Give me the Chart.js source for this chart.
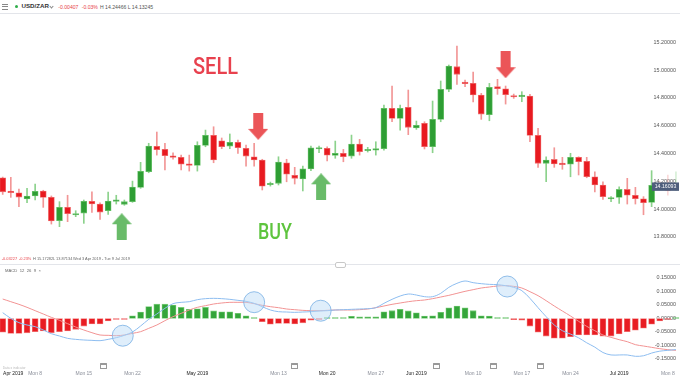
<!DOCTYPE html>
<html><head><meta charset="utf-8">
<script src="https://cdn.jsdelivr.net/npm/chart.js@4.4.1/dist/chart.umd.min.js"></script>
<style>
html,body{margin:0;padding:0;background:#fff;}
body{width:680px;height:379px;position:relative;overflow:hidden;font-family:"Liberation Sans",Arial,sans-serif;}
.abs{position:absolute;white-space:nowrap;}
canvas{position:absolute;left:0;}
.cal{position:absolute;width:5px;height:3px;border:0.8px solid #999;border-top:2px solid #999;border-radius:0.5px;top:363px;}
</style></head><body>
<canvas id="c1" width="680" height="248" style="top:14px"></canvas>
<canvas id="c2" width="680" height="115" style="top:264px"></canvas>

<!-- header -->
<div class="abs" style="left:2px;top:4px;width:5.5px;height:1px;background:#888"></div>
<div class="abs" style="left:2px;top:6.3px;width:5.5px;height:1px;background:#888"></div>
<div class="abs" style="left:2px;top:8.6px;width:5.5px;height:1px;background:#888"></div>
<div class="abs" style="left:15px;top:5px;width:3.4px;height:3.4px;border-radius:50%;background:#2fae4a"></div>
<div class="abs" style="left:21.5px;top:3.4px;font-size:6.2px;line-height:6.4px;font-weight:bold;color:#333">USD/ZAR</div>
<div class="abs" style="left:50.3px;top:4.6px;width:2px;height:2px;border-right:0.8px solid #888;border-bottom:0.8px solid #888;transform:rotate(45deg)"></div>
<div class="abs" style="left:58.3px;top:4px;font-size:5.1px;line-height:6px;color:#e8444a">-0.00407</div>
<div class="abs" style="left:81.7px;top:4px;font-size:5.1px;line-height:6px;color:#e8444a">-0.03%</div>
<div class="abs" style="left:100px;top:4px;font-size:5.1px;line-height:6px;color:#555">H 14.24466 L 14.13245</div>
<div class="abs" style="left:0;top:13px;width:680px;height:1px;background:#e3e5ea"></div>

<!-- annotations -->
<div class="abs" id="sell" style="left:193px;top:53px;font-family:Roboto,'Liberation Sans',sans-serif;font-weight:500;font-size:24px;line-height:26px;color:#e8414e;transform-origin:0 0">SELL</div>
<div class="abs" id="buy" style="left:258px;top:220px;font-family:Roboto,'Liberation Sans',sans-serif;font-weight:500;font-size:22px;line-height:24px;color:#5ec43e;transform-origin:0 0">BUY</div>

<!-- bottom info of price pane -->
<div class="abs" style="left:1.7px;top:257.2px;font-size:3.9px;line-height:4.4px;color:#e8444a">-0.03227</div>
<div class="abs" style="left:19px;top:257.2px;font-size:3.9px;line-height:4.4px;color:#e8444a">-0.23%</div>
<div class="abs" style="left:33px;top:257.2px;font-size:3.9px;line-height:4.4px;color:#666">H 15.17282</div>
<div class="abs" style="left:53px;top:257.2px;font-size:3.9px;line-height:4.4px;color:#666">L 13.87134</div>
<div class="abs" style="left:73px;top:257.2px;font-size:3.9px;line-height:4.4px;color:#666">Wed 3 Apr 2019 - Tue 9 Jul 2019</div>
<div class="abs" style="left:0;top:264px;width:680px;height:1px;background:#e3e5ea"></div>
<div class="abs" style="left:335px;top:262.3px;width:9px;height:3.4px;border:0.7px solid #c8c8c8;border-radius:2px;background:#fff"></div>
<div class="abs" style="left:5px;top:268.8px;font-size:4.2px;line-height:4.6px;color:#666;word-spacing:1.2px">MACD 12 26 9 ×</div>

<!-- bottom strip -->
<div class="abs" style="left:2.7px;top:366.6px;font-size:3.3px;line-height:3.6px;color:#bbb">Data x indicator</div>
<div class="cal" style="left:100px"></div>
<div class="cal" style="left:290.5px"></div>
<div class="cal" style="left:432.5px"></div>
<div class="cal" style="left:490px"></div>
<div class="cal" style="left:537.3px"></div>

<script>
// ---------- data ----------
const opens  = [14.225,14.129,14.117,14.072,14.094,14.130,14.084,13.916,14.012,13.957,
                13.971,14.055,14.036,13.988,14.055,14.034,14.053,14.156,14.268,14.451,
                14.429,14.381,14.372,14.324,14.314,14.458,14.530,14.491,14.453,14.480,
                14.437,14.376,14.353,14.175,14.185,14.333,14.242,14.216,14.288,14.432,
                14.437,14.386,14.401,14.381,14.468,14.419,14.424,14.434,14.724,14.652,
                14.732,14.583,14.617,14.448,14.645,14.861,15.024,14.914,14.904,14.820,
                14.678,14.880,14.865,14.815,14.808,14.813,14.530,14.329,14.357,14.329,
                14.322,14.372,14.343,14.232,14.173,14.072,14.084,14.141,14.099,14.074,
                14.048,14.170,14.175,14.150];
const highs  = [14.230,14.228,14.144,14.149,14.180,14.135,14.094,14.053,14.099,13.988,
                14.065,14.124,14.045,14.122,14.099,14.065,14.201,14.336,14.473,14.554,
                14.473,14.405,14.388,14.388,14.484,14.568,14.592,14.511,14.540,14.496,
                14.460,14.473,14.358,14.194,14.376,14.358,14.300,14.309,14.453,14.453,
                14.448,14.489,14.429,14.532,14.501,14.444,14.484,14.748,14.885,14.748,
                14.856,14.633,14.628,14.777,14.921,15.036,15.173,14.928,14.986,14.832,
                14.904,14.933,14.885,14.827,14.844,14.825,14.581,14.376,14.441,14.372,
                14.401,14.376,14.372,14.268,14.196,14.089,14.160,14.221,14.156,14.089,
                14.276,14.200,14.245,14.268];
const lows   = [14.105,14.084,14.017,14.045,14.065,14.012,13.892,13.873,13.909,13.945,
                13.897,13.976,13.926,13.962,14.036,14.027,14.048,14.149,14.261,14.388,
                14.281,14.358,14.281,14.273,14.273,14.448,14.333,14.434,14.434,14.400,
                14.309,14.309,14.137,14.165,14.173,14.196,14.180,14.130,14.276,14.405,
                14.347,14.365,14.340,14.365,14.388,14.410,14.388,14.424,14.628,14.568,
                14.535,14.573,14.432,14.405,14.628,14.844,14.897,14.880,14.770,14.645,
                14.635,14.825,14.755,14.796,14.772,14.484,14.300,14.196,14.300,14.286,
                14.232,14.245,14.225,14.124,14.070,14.053,14.041,14.036,14.036,13.959,
                14.017,14.140,14.100,14.132];
const closes = [14.124,14.117,14.086,14.094,14.127,14.084,13.914,14.012,13.966,13.966,
                14.055,14.036,13.978,14.058,14.065,14.053,14.158,14.271,14.453,14.427,
                14.383,14.372,14.322,14.314,14.458,14.530,14.353,14.448,14.480,14.441,
                14.381,14.353,14.165,14.185,14.338,14.250,14.221,14.290,14.441,14.439,
                14.388,14.401,14.376,14.468,14.412,14.427,14.432,14.724,14.652,14.724,
                14.588,14.602,14.448,14.645,14.861,15.029,14.969,14.902,14.820,14.683,
                14.875,14.865,14.822,14.806,14.820,14.530,14.329,14.353,14.324,14.319,
                14.372,14.340,14.232,14.173,14.089,14.081,14.141,14.099,14.074,14.045,
                14.170,14.160,14.130,14.165];
const macdLine = [0.0216,0.0006,-0.0154,-0.0241,-0.0302,-0.0426,-0.0562,-0.0648,-0.0735,-0.0772,
                  -0.0796,-0.0809,-0.0821,-0.0772,-0.0710,-0.0623,-0.0500,-0.0278,-0.0031,0.0167,
                  0.0377,0.0549,0.0599,0.0623,0.0698,0.0735,0.0747,0.0735,0.0710,0.0673,
                  0.0636,0.0562,0.0438,0.0315,0.0253,0.0241,0.0228,0.0241,0.0253,0.0278,
                  0.0290,0.0315,0.0327,0.0340,0.0352,0.0364,0.0401,0.0562,0.0710,0.0833,
                  0.0907,0.0870,0.0809,0.0809,0.0932,0.1154,0.1302,0.1389,0.1327,0.1290,
                  0.1265,0.1253,0.1216,0.1154,0.1031,0.0747,0.0401,0.0068,-0.0241,-0.0452,
                  -0.0577,-0.0715,-0.0900,-0.1060,-0.1260,-0.1350,-0.1350,-0.1350,-0.1400,-0.1380,
                  -0.1280,-0.1210,-0.1180,-0.1150];
const signalLine = [0.0722,0.0623,0.0525,0.0414,0.0290,0.0167,0.0043,-0.0068,-0.0191,-0.0315,
                  -0.0426,-0.0525,-0.0611,-0.0623,-0.0636,-0.0611,-0.0549,-0.0488,-0.0364,-0.0241,
                  -0.0080,0.0068,0.0191,0.0315,0.0414,0.0475,0.0537,0.0574,0.0599,0.0599,
                  0.0599,0.0549,0.0488,0.0438,0.0401,0.0352,0.0327,0.0302,0.0290,0.0290,
                  0.0302,0.0315,0.0315,0.0315,0.0327,0.0352,0.0401,0.0463,0.0525,0.0574,
                  0.0623,0.0660,0.0685,0.0735,0.0796,0.0858,0.0932,0.1006,0.1068,0.1130,
                  0.1167,0.1204,0.1216,0.1191,0.1130,0.0994,0.0846,0.0660,0.0463,0.0278,
                  0.0093,-0.0105,-0.0290,-0.0451,-0.0611,-0.0698,-0.0784,-0.0858,-0.0969,-0.1019,
                  -0.1068,-0.1117,-0.1154,-0.1179];
const histogram = [-0.051,-0.055,-0.055,-0.053,-0.049,-0.046,-0.053,-0.049,-0.046,-0.040,
                  -0.028,-0.020,-0.020,-0.009,-0.003,-0.001,0.010,0.024,0.044,0.053,
                  0.053,0.050,0.041,0.034,0.036,0.041,0.028,0.025,0.025,0.019,
                  0.010,0.003,-0.012,-0.021,-0.018,-0.018,-0.020,-0.016,-0.006,-0.003,
                  0.002,0.002,0.002,0.008,0.006,0.006,0.006,0.025,0.029,0.034,
                  0.028,0.021,0.009,0.010,0.023,0.040,0.046,0.040,0.029,0.010,
                  0.009,0.002,0.001,-0.004,-0.006,-0.028,-0.051,-0.065,-0.073,-0.073,
                  -0.067,-0.061,-0.061,-0.061,-0.065,-0.065,-0.057,-0.049,-0.043,-0.036,
                  -0.021,-0.009,-0.003,0.003];
const priceTicks = [13.8,14.0,14.2,14.4,14.6,14.8,15.0,15.2];
const macdTicks = [-0.15,-0.10,-0.05,0,0.05,0.10,0.15];
const dateTickIndex = [1.3,4,10,16,24,34,40,46,51,58,64,70,76,82];
const dateTickLabels = ['Apr 2019','Mon 8','Mon 15','Mon 22','May 2019','Mon 13','Mon 20','Mon 27','Jun 2019','Mon 10','Mon 17','Mon 24','Jul 2019','Mon 8'];
const lastPrice = 14.16093;
// signal markers (candle index, price) and MACD crossovers (candle index, MACD value)
const buyMarkers  = [[14.67,13.873],[39.25,14.160]];
const sellMarkers = [[31.5,14.595],[62.0,15.038]];
const crossovers  = [[14.8,-0.0637],[31.0,0.0604],[39.2,0.0289],[62.2,0.1185]];

// ---------- helpers ----------
const idx = opens.map((_, i) => i);
const X_MIN = -0.333, X_MAX = 83.5;
const isUp = i => closes[i] >= opens[i];
const faded = i => i > 80;
const rgba = (c, a) => `rgba(${c},${a})`;
const G_BODY = '46,158,52', G_EDGE = '108,196,108', G_WICK = '140,210,140';
const R_BODY = '232,26,32', R_EDGE = '240,112,112', R_WICK = '242,150,150';

function makeArrow(color, up) {
  const c = document.createElement('canvas'); c.width = 20; c.height = 27;
  const g = c.getContext('2d'); g.fillStyle = color; g.beginPath();
  if (up) { g.moveTo(10,0); g.lineTo(20,11); g.lineTo(15,11); g.lineTo(15,27); g.lineTo(5,27); g.lineTo(5,11); g.lineTo(0,11); }
  else { g.moveTo(5,0); g.lineTo(15,0); g.lineTo(15,16); g.lineTo(20,16); g.lineTo(10,27); g.lineTo(0,16); g.lineTo(5,16); }
  g.closePath(); g.fill(); return c;
}
const upArrow = makeArrow('rgba(84,178,84,0.88)', true);
const downArrow = makeArrow('rgba(233,66,70,0.9)', false);

const yAxisCommon = (ticks) => ({
  type: 'linear', position: 'right', beginAtZero: false,
  grid: { display: false, drawTicks: false }, border: { display: false },
  z: 1,
  ticks: { mirror: true, padding: -4, font: { size: 5.4, family: 'Liberation Sans' }, color: '#555',
           callback: v => Number(v).toFixed(5) },
  afterFit: s => { s.width = 0; },
  afterBuildTicks: s => { s.ticks = ticks.map(v => ({ value: v })); }
});

const lastPricePlugin = {
  id: 'lastPrice',
  afterDraw(ch) {
    const y = ch.scales.y.getPixelForValue(lastPrice);
    const g = ch.ctx, r = ch.chartArea.right;
    g.save();
    g.fillStyle = '#4e5e7c';
    g.fillRect(r - 28, y - 4.2, 27, 8.4);
    g.fillStyle = '#fff'; g.font = '5.2px "Liberation Sans"';
    g.textAlign = 'center'; g.textBaseline = 'middle';
    g.fillText(lastPrice.toFixed(5), r - 14.5, y + 0.3);
    g.restore();
  }
};

const common = {
  responsive: false, devicePixelRatio: 1, animation: false, events: [],
  layout: { padding: 0, autoPadding: false },
  plugins: { legend: { display: false }, tooltip: { enabled: false } }
};

// ---------- price chart ----------
new Chart(document.getElementById('c1'), {
  type: 'bar',
  data: { datasets: [
    { type: 'scatter', data: buyMarkers.map(([x, y]) => ({ x, y })).concat(sellMarkers.map(([x, y]) => ({ x, y }))),
      pointStyle: buyMarkers.map(() => upArrow).concat(sellMarkers.map(() => downArrow)),
      pointRadius: 10, order: 0 },
    { data: idx.map(i => ({ x: i, y: [opens[i], closes[i]] })),
      backgroundColor: idx.map(i => rgba(isUp(i) ? G_BODY : R_BODY, faded(i) ? 0.3 : 1)),
      borderColor: idx.map(i => rgba(isUp(i) ? G_EDGE : R_EDGE, faded(i) ? 0.3 : 1)),
      borderWidth: 0.8, borderSkipped: false, barThickness: 6, minBarLength: 1.5, grouped: false, order: 1 },
    { data: idx.map(i => ({ x: i, y: [lows[i], highs[i]] })),
      backgroundColor: idx.map(i => rgba(isUp(i) ? G_WICK : R_WICK, faded(i) ? 0.35 : 1)),
      borderWidth: 0, barThickness: 1, grouped: false, order: 2 }
  ]},
  options: Object.assign({}, common, {
    scales: {
      x: { type: 'linear', min: X_MIN, max: X_MAX, offset: false, display: false },
      y: Object.assign(yAxisCommon(priceTicks), { min: 13.619, max: 15.403 })
    }
  }),
  plugins: [lastPricePlugin]
});

// ---------- MACD chart ----------
new Chart(document.getElementById('c2'), {
  type: 'bar',
  data: { datasets: [
    { type: 'bubble', data: crossovers.map(([x, y]) => ({ x, y, r: 10.5 })),
      backgroundColor: 'rgba(185,218,247,0.45)', borderColor: 'rgba(120,175,228,0.8)', borderWidth: 1, order: 0 },
    { type: 'line', data: idx.map(i => ({ x: i, y: macdLine[i] })), borderColor: '#8dbdf0', borderWidth: 1,
      pointRadius: 0, tension: 0.35, order: 1 },
    { type: 'line', data: idx.map(i => ({ x: i, y: signalLine[i] })), borderColor: '#f29393', borderWidth: 1,
      pointRadius: 0, tension: 0.35, order: 2 },
    { data: idx.map(i => ({ x: i, y: histogram[i] })),
      backgroundColor: idx.map(i => histogram[i] >= 0 ? 'rgb(52,165,58)' : 'rgb(232,28,34)'),
      borderColor: idx.map(i => histogram[i] >= 0 ? 'rgb(120,205,120)' : 'rgb(242,120,120)'),
      borderWidth: 0.8, borderSkipped: false, barThickness: 6, minBarLength: 1, grouped: false, order: 3 }
  ]},
  options: Object.assign({}, common, {
    scales: {
      x: { type: 'linear', min: X_MIN, max: X_MAX, offset: false,
           grid: { display: false, drawTicks: false }, border: { display: false },
           ticks: { autoSkip: false, maxRotation: 0, minRotation: 0, padding: 8,
                    font: { size: 5, family: 'Liberation Sans' },
                    color: c => /20/.test(dateTickLabels[c.index] || '') ? '#222' : '#8a8e99',
                    callback: (v, i) => dateTickLabels[i] },
           afterFit: s => { s.height = 16; s.paddingLeft = 0; s.paddingRight = 0; },
           afterBuildTicks: s => { s.ticks = dateTickIndex.map(v => ({ value: v })); } },
      y: Object.assign(yAxisCommon(macdTicks), { min: -0.1648, max: 0.2019 })
    }
  })
});

// fit the annotation words to the reference's width
[['sell', 45], ['buy', 34]].forEach(([id, w]) => {
  const el = document.getElementById(id);
  el.style.transform = `scaleX(${w / el.getBoundingClientRect().width})`;
});
</script>
</body></html>
